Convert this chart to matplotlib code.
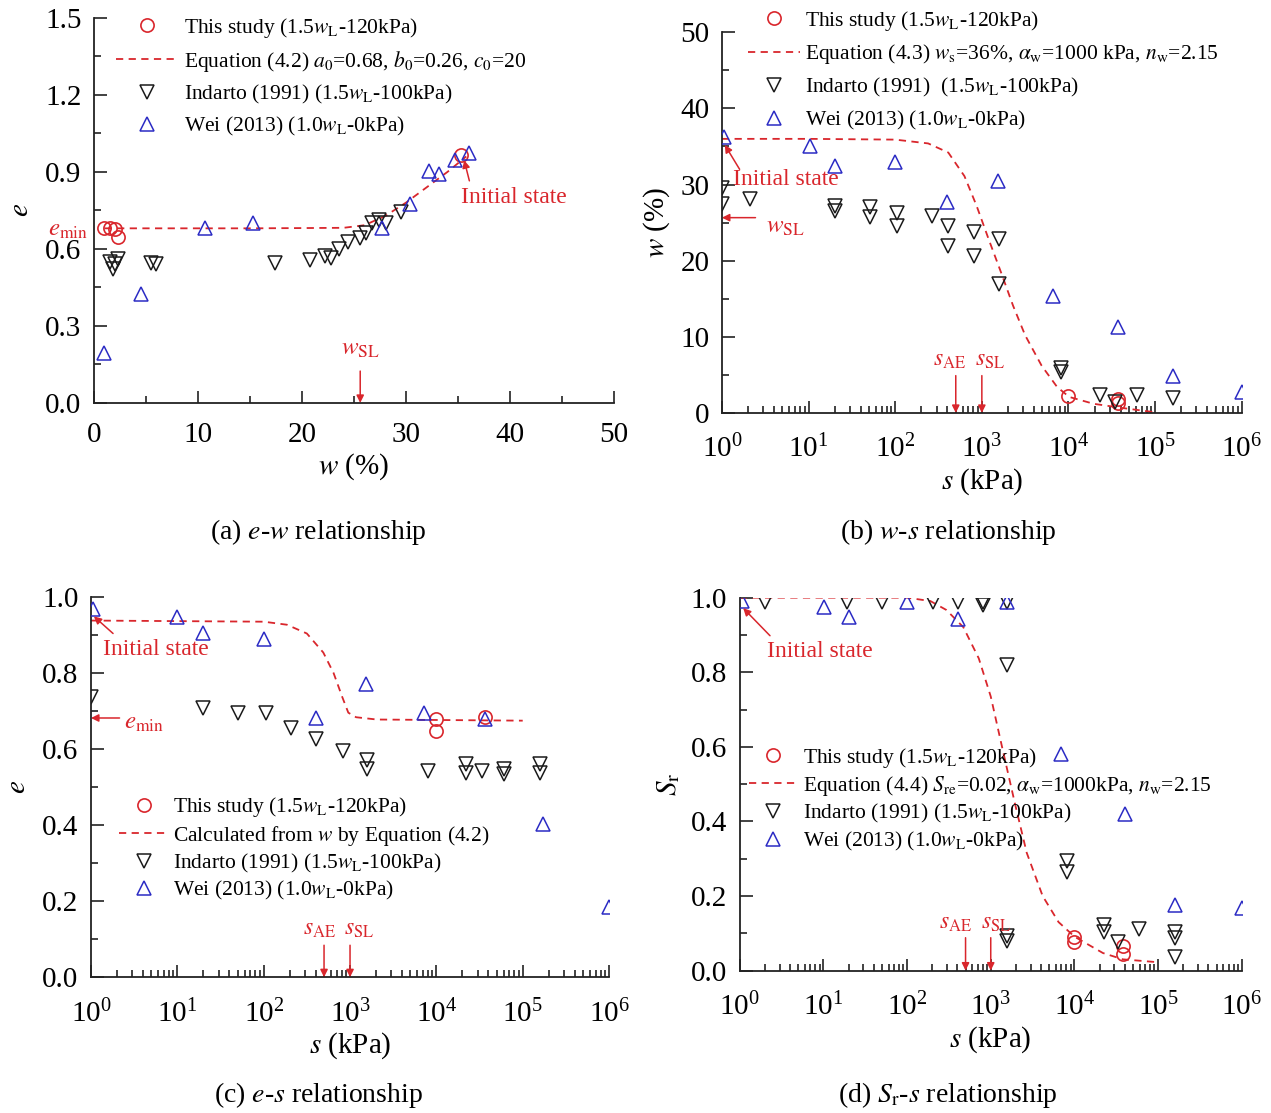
import numpy as np
import matplotlib
matplotlib.use("Agg")
import matplotlib.pyplot as plt
from matplotlib.ticker import MultipleLocator, LogLocator, FormatStrFormatter, NullFormatter

plt.rcParams['font.family'] = ['Liberation Serif', 'DejaVu Serif']
plt.rcParams['mathtext.fontset'] = 'stix'

RED = '#d9262c'
BLUE = '#2b2bc4'
BLACK = '#1a1a1a'

# ---- (a) e-w relationship ----
a_this_w = [1.0, 1.5, 2.0, 2.3, 35.3]
a_this_e = [0.683, 0.683, 0.679, 0.648, 0.965]
a_eq_w = [1, 5, 10, 15, 20, 24, 26, 28, 30, 32, 34, 35.8]
a_eq_e = [0.68, 0.68, 0.68, 0.68, 0.681, 0.682, 0.692, 0.728, 0.78, 0.84, 0.90, 0.96]
a_ind_w = [1.5, 1.8, 2.0, 2.3, 5.5, 6.0, 17.4, 20.8, 22.2, 22.8, 23.6, 24.4,
           25.6, 26.2, 26.7, 27.4, 28.1, 29.5]
a_ind_e = [0.55, 0.52, 0.54, 0.56, 0.546, 0.54, 0.546, 0.557, 0.572, 0.566, 0.598, 0.627,
           0.644, 0.663, 0.70, 0.713, 0.70, 0.742]
a_wei_w = [1.0, 4.5, 10.7, 15.3, 27.7, 30.4, 32.2, 33.2, 34.7, 36.1]
a_wei_e = [0.193, 0.423, 0.683, 0.702, 0.683, 0.774, 0.904, 0.891, 0.946, 0.973]

# ---- (b) w-s relationship ----
b_this_s = [1e4, 3.7e4, 3.7e4]
b_this_w = [2.2, 1.8, 1.3]
b_eq_s = [1, 10, 100, 240, 410, 630, 870, 1200, 1660, 2290, 3160, 4900, 7400, 10200, 19500, 41700, 93000]
b_eq_w = [36.0, 36.0, 35.9, 35.4, 34.2, 31.1, 27.2, 22.8, 18.5, 14.1, 10.2, 6.2, 3.4, 2.1, 1.2, 0.65, 0.13]
b_ind_s = [1, 1, 2.1, 20, 20, 51, 51, 104, 104, 265, 405, 405, 820, 820, 1590, 1590,
           8300, 8300, 23000, 34000, 61000, 162000]
b_ind_w = [29.6, 27.4, 28.05, 27.2, 26.5, 27.0, 25.7, 26.3, 24.6, 25.9, 24.6, 21.9, 23.7, 20.6,
           22.8, 16.9, 5.9, 5.4, 2.3, 1.4, 2.4, 1.9]
b_wei_s = [1.07, 10.5, 20, 100, 395, 1540, 6700, 37500, 162000, 1e6]
b_wei_w = [36.3, 35.0, 32.4, 32.9, 27.7, 30.4, 15.3, 11.3, 4.8, 2.75]

# ---- (c) e-s relationship ----
c_this_s = [1e4, 1e4, 3.7e4]
c_this_e = [0.679, 0.648, 0.684]
c_eq_s = [1, 100, 186, 316, 490, 645, 813, 955, 1175, 2040, 1e5]
c_eq_e = [0.937, 0.934, 0.926, 0.903, 0.853, 0.799, 0.736, 0.695, 0.683, 0.677, 0.674]
c_ind_s = [1, 20, 50, 105, 206, 405, 820, 1580, 1580, 8100, 22000, 22000, 33500,
           61000, 61000, 158000, 158000]
c_ind_e = [0.736, 0.707, 0.695, 0.695, 0.656, 0.627, 0.594, 0.570, 0.548, 0.543, 0.559, 0.537,
           0.543, 0.548, 0.534, 0.561, 0.537]
c_wei_s = [1.05, 10, 20, 102, 405, 1530, 7100, 37000, 170000, 1e6]
c_wei_e = [0.968, 0.946, 0.903, 0.888, 0.680, 0.769, 0.695, 0.679, 0.403, 0.184]

# ---- (d) Sr-s relationship ----
d_this_s = [1e4, 1e4, 3.8e4, 3.8e4]
d_this_sr = [0.091, 0.076, 0.067, 0.044]
d_eq_s = [1, 100, 190, 295, 470, 720, 1000, 1380, 1950, 2690, 4170, 6460, 1e4, 21900, 38000, 91000]
d_eq_sr = [1.0, 1.0, 0.991, 0.967, 0.921, 0.837, 0.735, 0.595, 0.447, 0.316, 0.20, 0.130,
           0.091, 0.047, 0.030, 0.023]
d_ind_s = [2, 19.3, 49.5, 203, 405, 800, 800, 1550, 1550, 1550, 1550, 8100, 8100,
           22400, 22400, 33000, 59000, 160000, 160000, 160000]
d_ind_sr = [0.989, 0.989, 0.989, 0.989, 0.989, 0.989, 0.981, 0.989, 0.819, 0.093, 0.079, 0.293, 0.265,
            0.123, 0.104, 0.076, 0.112, 0.104, 0.088, 0.037]
d_wei_s = [1.06, 10.3, 20.5, 99, 405, 1550, 7000, 40000, 160000, 1e6]
d_wei_sr = [0.991, 0.975, 0.949, 0.989, 0.944, 0.989, 0.581, 0.420, 0.175, 0.169]

lbl_this = r'This study (1.5$w_{\rm L}$-120kPa)'
lbl_ind = r'Indarto (1991) (1.5$w_{\rm L}$-100kPa)'
lbl_wei = r'Wei (2013) (1.0$w_{\rm L}$-0kPa)'


def draw(ax, tx, ty, ex, ey, ix, iy, wx, wy, eq_label, ind_label=lbl_ind):
    ax.plot(ex, ey, linestyle='--', dashes=(4, 3), color=RED, lw=1.3, label=eq_label, zorder=2)
    ax.plot(tx, ty, 'o', mfc='none', mec=RED, ms=9.5, mew=1.2, label=lbl_this, zorder=3)
    ax.plot(ix, iy, 'v', mfc='none', mec=BLACK, ms=9.5, mew=1.1, label=ind_label, zorder=3)
    ax.plot(wx, wy, '^', mfc='none', mec=BLUE, ms=9.5, mew=1.1, label=lbl_wei, zorder=3)


def style(ax, logx=False):
    for sp in ['top', 'right']:
        ax.spines[sp].set_visible(False)
    for sp in ['left', 'bottom']:
        ax.spines[sp].set_linewidth(1.3)
        ax.spines[sp].set_color('#222222')
    if logx:
        ax.set_xscale('log')
        ax.set_xlim(1, 1e6)
        ax.xaxis.set_major_locator(LogLocator(base=10, numticks=10))
        ax.xaxis.set_minor_locator(LogLocator(base=10, subs=np.arange(2, 10), numticks=100))
        ax.xaxis.set_minor_formatter(NullFormatter())
    ax.tick_params(which='both', direction='in', width=1.2, color='#222222', labelsize=21)
    ax.tick_params(axis='y', pad=9)
    ax.tick_params(axis='x', pad=16 if logx else 14)
    ax.tick_params(which='major', length=9)
    ax.tick_params(which='minor', length=5)


def legend(ax, x0, y0, spacing, hlen):
    h, l = ax.get_legend_handles_labels()
    order = [1, 0, 2, 3]
    ax.legend([h[i] for i in order], [l[i] for i in order], loc='upper left',
              bbox_to_anchor=(x0, y0), frameon=False, fontsize=15.5, handlelength=hlen,
              handletextpad=0.25, labelspacing=spacing, borderaxespad=0, borderpad=0)


def arrow(ax, xy_from, xy_to):
    ax.annotate('', xy=xy_to, xytext=xy_from,
                arrowprops=dict(arrowstyle='-|>', color=RED, lw=1.1, mutation_scale=11,
                                shrinkA=0, shrinkB=0), annotation_clip=False)


fig = plt.figure(figsize=(12.71, 11.13), dpi=100)
axa = fig.add_axes([0.074, 0.638, 0.409, 0.346])
axb = fig.add_axes([0.568, 0.629, 0.409, 0.342])
axc = fig.add_axes([0.0716, 0.122, 0.4076, 0.342])
axd = fig.add_axes([0.582, 0.128, 0.395, 0.335])

# (a)
draw(axa, a_this_w, a_this_e, a_eq_w, a_eq_e, a_ind_w, a_ind_e, a_wei_w, a_wei_e,
     r'Equation (4.2) $a_0$=0.68, $b_0$=0.26, $c_0$=20')
style(axa)
axa.set_xlim(0, 50)
axa.set_ylim(0, 1.5)
axa.xaxis.set_major_locator(MultipleLocator(10))
axa.xaxis.set_minor_locator(MultipleLocator(5))
axa.yaxis.set_major_locator(MultipleLocator(0.3))
axa.yaxis.set_minor_locator(MultipleLocator(0.15))
axa.yaxis.set_major_formatter(FormatStrFormatter('%.1f'))
axa.set_xlabel(r'$w$ (%)', fontsize=21, labelpad=2)
axa.set_ylabel(r'$e$', fontsize=21, labelpad=8)
legend(axa, 0.042, 1.005, 0.42, 2.9)
axa.text(-0.6, 0.675, r'$e_{\rm min}$', color=RED, fontsize=18, ha='right', va='center')
axa.text(35.3, 0.80, 'Initial state', color=RED, fontsize=17, ha='left', va='center')
arrow(axa, (36.1, 0.865), (35.6, 0.945))
axa.text(25.6, 0.21, r'$w_{\rm SL}$', color=RED, fontsize=18, ha='center', va='center')
arrow(axa, (25.6, 0.124), (25.6, 0.0))

# (b)
draw(axb, b_this_s, b_this_w, b_eq_s, b_eq_w, b_ind_s, b_ind_w, b_wei_s, b_wei_w,
     r'Equation (4.3) $w_{\rm s}$=36%, $\alpha_{\rm w}$=1000 kPa, $n_{\rm w}$=2.15',
     ind_label=r'Indarto (1991)  (1.5$w_{\rm L}$-100kPa)')
style(axb, logx=True)
axb.set_ylim(0, 50)
axb.yaxis.set_major_locator(MultipleLocator(10))
axb.yaxis.set_minor_locator(MultipleLocator(5))
axb.set_xlabel(r'$s$ (kPa)', fontsize=21, labelpad=2)
axb.set_ylabel(r'$w$ (%)', fontsize=21, labelpad=6)
legend(axb, 0.05, 1.062, 0.45, 2.4)
axb.text(1.35, 30.7, 'Initial state', color=RED, fontsize=17, ha='left', va='center')
arrow(axb, (1.6, 32.0), (1.08, 35.2))
axb.text(3.2, 24.4, r'$w_{\rm SL}$', color=RED, fontsize=18, ha='left', va='center')
arrow(axb, (2.44, 25.65), (1.0, 25.65))
axb.text(420, 6.9, r'$s_{\rm AE}$', color=RED, fontsize=17, ha='center', va='center')
axb.text(1250, 6.9, r'$s_{\rm SL}$', color=RED, fontsize=17, ha='center', va='center')
arrow(axb, (500, 4.9), (500, 0))
arrow(axb, (1000, 4.9), (1000, 0))

# (c)
draw(axc, c_this_s, c_this_e, c_eq_s, c_eq_e, c_ind_s, c_ind_e, c_wei_s, c_wei_e,
     r'Calculated from $w$ by Equation (4.2)')
style(axc, logx=True)
axc.set_ylim(0, 1.0)
axc.yaxis.set_major_locator(MultipleLocator(0.2))
axc.yaxis.set_minor_locator(MultipleLocator(0.1))
axc.yaxis.set_major_formatter(FormatStrFormatter('%.1f'))
axc.set_xlabel(r'$s$ (kPa)', fontsize=21, labelpad=2)
axc.set_ylabel(r'$e$', fontsize=21, labelpad=8)
legend(axc, 0.055, 0.478, 0.2, 2.25)
axc.text(1.38, 0.862, 'Initial state', color=RED, fontsize=17, ha='left', va='center')
arrow(axc, (1.8, 0.903), (1.08, 0.948))
axc.text(2.4, 0.668, r'$e_{\rm min}$', color=RED, fontsize=18, ha='left', va='center')
arrow(axc, (2.14, 0.681), (1.0, 0.681))
axc.text(440, 0.125, r'$s_{\rm AE}$', color=RED, fontsize=17, ha='center', va='center')
axc.text(1280, 0.125, r'$s_{\rm SL}$', color=RED, fontsize=17, ha='center', va='center')
arrow(axc, (500, 0.084), (500, 0))
arrow(axc, (1000, 0.084), (1000, 0))

# (d)
draw(axd, d_this_s, d_this_sr, d_eq_s, d_eq_sr, d_ind_s, d_ind_sr, d_wei_s, d_wei_sr,
     r'Equation (4.4) $S_{\rm re}$=0.02, $\alpha_{\rm w}$=1000kPa, $n_{\rm w}$=2.15')
style(axd, logx=True)
axd.set_ylim(0, 1.0)
axd.yaxis.set_major_locator(MultipleLocator(0.2))
axd.yaxis.set_minor_locator(MultipleLocator(0.1))
axd.yaxis.set_major_formatter(FormatStrFormatter('%.1f'))
axd.set_xlabel(r'$s$ (kPa)', fontsize=21, labelpad=2)
axd.set_ylabel(r'$S_{\rm r}$', fontsize=21, labelpad=6)
legend(axd, 0.018, 0.603, 0.2, 2.25)
axd.text(2.1, 0.856, 'Initial state', color=RED, fontsize=17, ha='left', va='center')
arrow(axd, (2.3, 0.898), (1.1, 0.972))
axd.text(380, 0.126, r'$s_{\rm AE}$', color=RED, fontsize=17, ha='center', va='center')
axd.text(1150, 0.126, r'$s_{\rm SL}$', color=RED, fontsize=17, ha='center', va='center')
arrow(axd, (500, 0.088), (500, 0))
arrow(axd, (1000, 0.088), (1000, 0))

fig.text(318 / 1271, 1 - 532 / 1113, r'(a) $e$-$w$ relationship', fontsize=20, ha='center', va='center')
fig.text(948 / 1271, 1 - 532 / 1113, r'(b) $w$-$s$ relationship', fontsize=20, ha='center', va='center')
fig.text(318 / 1271, 1 - 1095 / 1113, r'(c) $e$-$s$ relationship', fontsize=20, ha='center', va='center')
fig.text(948 / 1271, 1 - 1095 / 1113, r'(d) $S_{\rm r}$-$s$ relationship', fontsize=20, ha='center', va='center')

fig.savefig('out.png', dpi=100, facecolor='white')
